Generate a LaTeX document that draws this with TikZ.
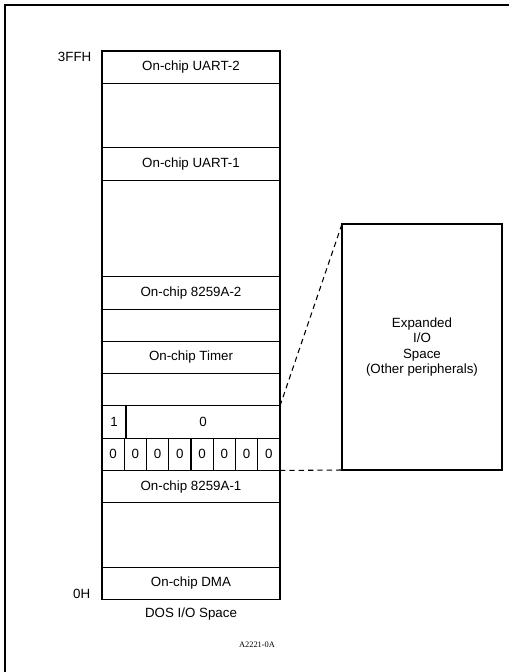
\documentclass[tikz,border=0pt]{standalone}
\usepackage{fontspec}
\setmainfont{Liberation Sans}
\newfontfamily\figfont{Liberation Serif}
\usetikzlibrary{positioning}

\tikzset{
  row/.style={draw, line width=0.8pt, minimum width=133.5pt, minimum height=24.2pt,
    inner sep=0pt, outer sep=0pt},
  tallrow/.style={row, minimum height=48.4pt},
  tallerrow/.style={row, minimum height=72.6pt},
  bit/.style={row, minimum width=16.69pt},
  link/.style={line width=0.8pt, dash pattern=on 4pt off 3pt},
}

\begin{document}
\begin{tikzpicture}[x=0.75pt, y=-0.75pt]
  \useasboundingbox (0,0) rectangle (509,672);
  \draw[line width=1.5pt] (5,672) -- (5,5) -- (509,5);

  % DOS I/O space, top to bottom
  \node[row, anchor=north west] (uart2) at (102,51) {On-chip UART-2};
  \node[tallrow, below=0pt of uart2] (free1) {};
  \node[row, below=0pt of free1] (uart1) {On-chip UART-1};
  \node[tallerrow, below=0pt of uart1] (free2) {};
  \node[row, below=0pt of free2] (pic2) {On-chip 8259A-2};
  \node[row, below=0pt of pic2] (free3) {};
  \node[row, below=0pt of free3] (timer) {On-chip Timer};
  \node[row, below=0pt of timer] (free4) {};

  % address bits
  \node[row, minimum width=18pt, anchor=north west] (one) at (free4.south west) {1};
  \node[row, minimum width=115.5pt, right=0pt of one] (zero) {0};
  \node[bit, anchor=north west] (b1) at (one.south west) {0};
  \foreach \i [count=\j from 2] in {1,...,7}
    \node[bit, right=0pt of b\i] (b\j) {0};

  \node[row, anchor=north west] (pic1) at (b1.south west) {On-chip 8259A-1};
  \node[tallrow, below=0pt of pic1] (free5) {};
  \node[row, below=0pt of free5] (dma) {On-chip DMA};

  \node[anchor=base east] (top) at (96,61) {3FFH};
  \node[anchor=base east] (bottom) at (95,598) {0H};
  \node[anchor=base] (dos) at (191,617) {DOS I/O Space};

  % expanded space
  \node[draw, line width=0.8pt, minimum width=120pt, minimum height=184.5pt,
    inner sep=0pt, outer sep=0pt, anchor=south west, align=center,
    font=\fontsize{10}{11.7}\selectfont] (exp) at (342,470)
    {Expanded\\I/O\\Space\\(Other peripherals)};
  \draw[link] (zero.north east) -- (exp.north west);
  \draw[link] (b8.south east) -- (exp.south west);

  \node[anchor=base, font=\figfont\fontsize{6.3}{7}\selectfont] (tag) at (257,647) {A2221-0A};
\end{tikzpicture}
\end{document}
